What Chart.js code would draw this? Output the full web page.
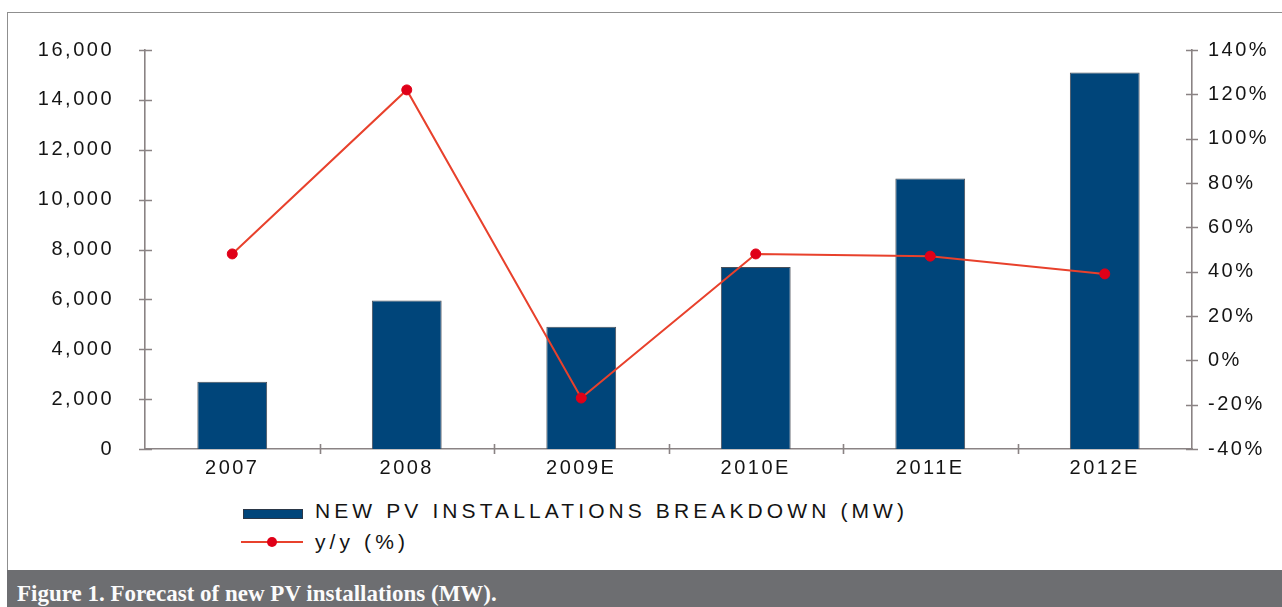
<!DOCTYPE html>
<html>
<head>
<meta charset="utf-8">
<script src="https://cdn.jsdelivr.net/npm/chart.js@4/dist/chart.umd.min.js"></script>
<style>
  html, body { margin: 0; padding: 0; background: #fff; }
  body { width: 1282px; height: 607px; position: relative; overflow: hidden; font-family: "Liberation Sans", Arial, sans-serif; }
  #frame { position: absolute; left: 7px; top: 12px; width: 1275px; height: 558px; border-top: 1px solid #8f8f8f; border-left: 1px solid #8f8f8f; box-sizing: border-box; }
  #caption { position: absolute; left: 7px; top: 570px; width: 1275px; height: 37px; background: #6d6e71; }
  #caption span { position: absolute; left: 10px; top: 12px; font-family: "Liberation Serif", "Times New Roman", serif; font-weight: bold; font-size: 23px; line-height: 23px; color: #fbfbfb; white-space: nowrap; }
  #chart { position: absolute; left: 0; top: 0; }
  .lg-text { position: absolute; left: 315px; font-size: 21px; line-height: 21px; letter-spacing: 4.1px; color: #141414; white-space: nowrap; }
  #sw-bar { position: absolute; left: 243px; top: 509px; width: 60px; height: 10px; background: #00457a; border: 1.5px solid #2a3748; box-sizing: border-box; }
  #sw-line { position: absolute; left: 241px; top: 541px; width: 62px; height: 2px; background: #e8412c; }
  #sw-dot { position: absolute; left: 267px; top: 537px; width: 10px; height: 10px; border-radius: 50%; background: #e00018; }
</style>
</head>
<body>
<div id="frame"></div>
<div id="caption"><span>Figure 1. Forecast of new PV installations (MW).</span></div>
<div id="sw-bar"></div>
<div class="lg-text" id="lg1" style="top:500px"></div>
<div id="sw-line"></div>
<div id="sw-dot"></div>
<div class="lg-text" id="lg2" style="top:531px"></div>
<canvas id="chart" width="1282" height="607"></canvas>
<script>
const categories = ['2007', '2008', '2009E', '2010E', '2011E', '2012E'];
const installations = [2700, 5950, 4900, 7300, 10850, 15100];
const growth = [48, 122, -17, 48, 47, 39];
const leftTicks = [0, 2000, 4000, 6000, 8000, 10000, 12000, 14000, 16000];
const rightTicks = [-40, -20, 0, 20, 40, 60, 80, 100, 120, 140];
const barLabel = 'NEW PV INSTALLATIONS BREAKDOWN (MW)';
const lineLabel = 'y/y (%)';

document.getElementById('lg1').textContent = barLabel;
document.getElementById('lg2').textContent = lineLabel;

const axisColor = '#8a8384';

const spacingPlugin = {
  id: 'spacing',
  beforeUpdate(chart) { chart.ctx.letterSpacing = '2.5px'; },
  beforeLayout(chart) { chart.ctx.letterSpacing = '2.5px'; },
  beforeDraw(chart) { chart.ctx.letterSpacing = '2.5px'; }
};

const crossTicks = {
  id: 'crossTicks',
  afterDraw(chart) {
    const ctx = chart.ctx;
    const { left, right, bottom } = chart.chartArea;
    ctx.save();
    ctx.strokeStyle = axisColor;
    ctx.lineWidth = 1.6;
    ctx.beginPath();
    const yl = chart.scales.y;
    yl.ticks.forEach((t, i) => {
      const p = Math.round(yl.getPixelForTick(i)) + 0.5;
      ctx.moveTo(left - 6, p); ctx.lineTo(left + 7, p);
    });
    const yr = chart.scales.y1;
    yr.ticks.forEach((t, i) => {
      const p = Math.round(yr.getPixelForTick(i)) + 0.5;
      ctx.moveTo(right - 6, p); ctx.lineTo(right + 6, p);
    });
    const xs = chart.scales.x;
    for (let i = 1; i < categories.length; i++) {
      const p = Math.round((xs.getPixelForValue(i - 1) + xs.getPixelForValue(i)) / 2) + 0.5;
      ctx.moveTo(p, bottom - 5); ctx.lineTo(p, bottom + 5);
    }
    ctx.stroke();
    ctx.restore();
  }
};

Chart.defaults.font.family = '"Liberation Sans", Arial, sans-serif';
Chart.defaults.font.size = 20;
Chart.defaults.color = '#141414';

new Chart(document.getElementById('chart'), {
  type: 'bar',
  data: {
    labels: categories,
    datasets: [
      {
        type: 'line',
        label: lineLabel,
        data: growth,
        yAxisID: 'y1',
        borderColor: '#e8412c',
        borderWidth: 2,
        pointRadius: 5,
        pointBackgroundColor: '#e00018',
        pointBorderColor: '#e00018',
        pointBorderWidth: 1,
        tension: 0,
        order: 0
      },
      {
        type: 'bar',
        label: barLabel,
        data: installations,
        yAxisID: 'y',
        backgroundColor: '#00457a',
        borderColor: '#4a505a',
        borderWidth: 1,
        barPercentage: 0.4,
        categoryPercentage: 1,
        order: 1
      }
    ]
  },
  options: {
    responsive: false,
    animation: false,
    events: [],
    layout: { padding: { top: 50, left: 0, right: 0, bottom: 0 } },
    plugins: { legend: { display: false }, tooltip: { enabled: false } },
    scales: {
      x: {
        offset: true,
        grid: { display: false, drawTicks: false },
        border: { display: true, color: axisColor, width: 1.6 },
        ticks: { padding: 7, maxRotation: 0, autoSkip: false },
        afterFit(s) { s.height = 607 - 449; }
      },
      y: {
        position: 'left',
        min: 0, max: 16000,
        afterBuildTicks(s) { s.ticks = leftTicks.map(v => ({ value: v })); },
        grid: { display: false, drawTicks: false },
        border: { display: true, color: axisColor, width: 1.6 },
        ticks: { padding: 31, callback: v => v.toLocaleString('en-US') },
        afterFit(s) { s.width = 145; }
      },
      y1: {
        position: 'right',
        min: -40, max: 140,
        afterBuildTicks(s) { s.ticks = rightTicks.map(v => ({ value: v })); },
        grid: { display: false, drawTicks: false },
        border: { display: true, color: axisColor, width: 1.6 },
        ticks: { padding: 16, callback: v => v + '%' },
        afterFit(s) { s.width = 1282 - 1192; }
      }
    }
  },
  plugins: [spacingPlugin, crossTicks]
});
</script>
</body>
</html>
